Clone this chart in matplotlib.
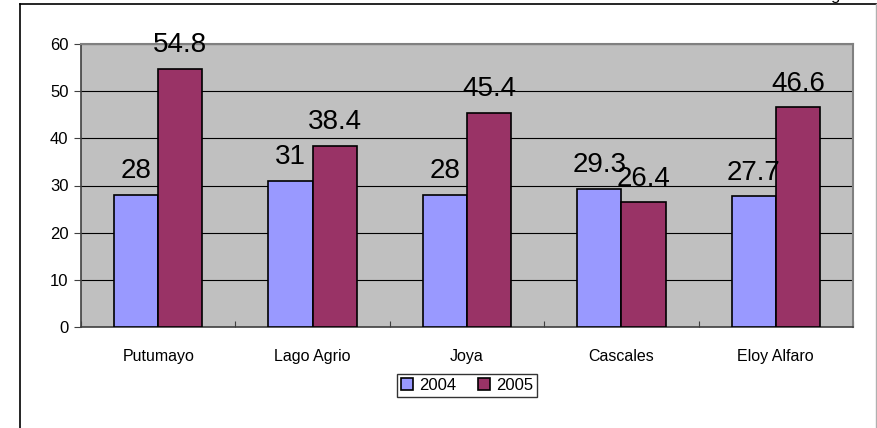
import matplotlib.pyplot as plt
import numpy as np

plt.rcParams['font.family'] = ['Liberation Sans', 'DejaVu Sans']

categories = ["Putumayo", "Lago Agrio", "Joya", "Cascales", "Eloy Alfaro"]
series_names = ["2004", "2005"]
values_2004 = [28, 31, 28, 29.3, 27.7]
values_2005 = [54.8, 38.4, 45.4, 26.4, 46.6]
colors = ["#9999FF", "#993366"]

fig = plt.figure(figsize=(8.77, 4.28), dpi=100)
ax = fig.add_axes([81 / 877, 1 - 327 / 428, 772 / 877, 283 / 428])
ax.set_facecolor("#C0C0C0")

x = np.arange(len(categories))
w = 1 / 3.5
for k, (vals, name) in enumerate(zip([values_2004, values_2005], series_names)):
    pos = x + (k - 0.5) * w
    bars = ax.bar(pos, vals, width=w, color=colors[k], edgecolor="black",
                  linewidth=1.2, label=name, zorder=3)
    for b, v in zip(bars, vals):
        ax.annotate(f"{v:g}", (b.get_x() + b.get_width() / 2, v),
                    xytext=(0, 12), textcoords="offset points",
                    ha="center", va="baseline", fontsize=20, zorder=4)

ax.set_xlim(-0.5, len(categories) - 0.5)
ax.set_ylim(0, 60)
ax.set_yticks(range(0, 61, 10))
ax.yaxis.grid(True, color="black", linewidth=0.8, zorder=0)
ax.set_xticks(np.arange(-0.5, len(categories), 1), minor=False)
ax.set_xticklabels([])
ax.set_xticks(x, minor=True)
ax.set_xticklabels(categories, minor=True, fontsize=11.5)
ax.tick_params(axis="x", which="minor", length=0, pad=16)
ax.tick_params(axis="x", which="major", length=4, direction="in", color="#404040")
ax.tick_params(axis="y", length=5, direction="out", labelsize=12, color="#404040", pad=4)

for side in ["top", "right"]:
    ax.spines[side].set_color("#808080")
    ax.spines[side].set_linewidth(1.5)
for side in ["left", "bottom"]:
    ax.spines[side].set_color("#404040")
    ax.spines[side].set_linewidth(1.2)

leg = ax.legend(loc="upper center", bbox_to_anchor=(0.5, -0.165), ncol=2,
                fontsize=12, frameon=True, fancybox=False, edgecolor="black",
                handlelength=0.75, handleheight=0.75, handletextpad=0.35,
                columnspacing=1.3, borderpad=0.25, borderaxespad=0)
leg.get_frame().set_linewidth(1)

# outer chart frame
fig.add_artist(plt.Line2D([20 / 877, 20 / 877], [0, 1 - 4 / 428], color="black", linewidth=1.2))
fig.add_artist(plt.Line2D([20 / 877, 1], [1 - 4 / 428, 1 - 4 / 428], color="black", linewidth=1.2))
fig.add_artist(plt.Line2D([875.5 / 877, 875.5 / 877], [0, 1 - 4 / 428], color="#B0B0B0", linewidth=1))
# clipped text fragment at the top edge, as in the source image
fig.text(830 / 877, 1.0, "g", fontsize=12, va="baseline", ha="left")

fig.savefig("out.png", dpi=100)
